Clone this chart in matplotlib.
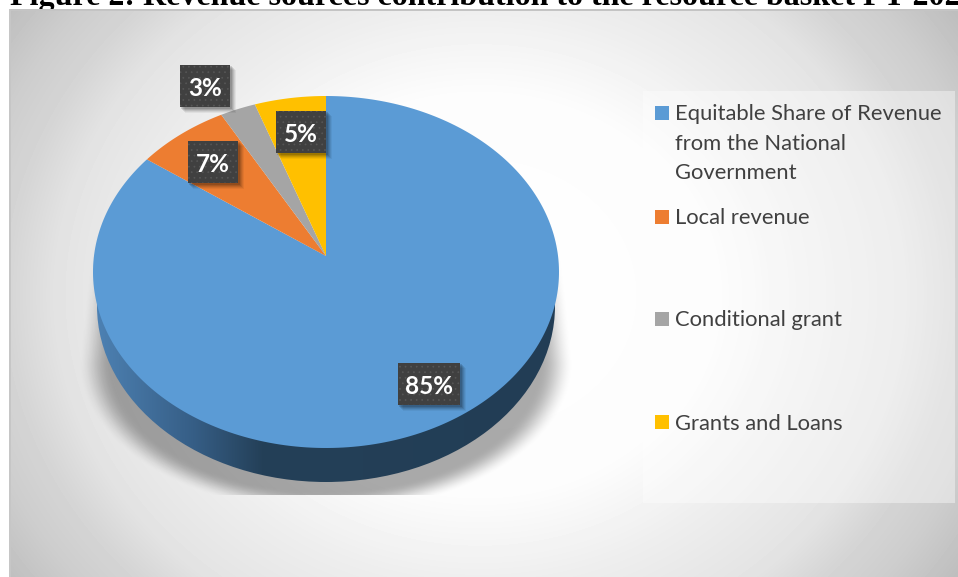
import numpy as np
import matplotlib
matplotlib.use("Agg")
import matplotlib.pyplot as plt
from matplotlib.patches import Rectangle, PathPatch, Ellipse
from matplotlib.path import Path
from matplotlib.transforms import Affine2D

# ---- data ----
categories = ["Equitable Share of Revenue\nfrom the National\nGovernment", "Local revenue",
              "Conditional grant", "Grants and Loans"]
values = [84.9, 7.0, 2.7, 5.4]
colors = ["#5B9BD5", "#ED7D31", "#A5A5A5", "#FFC000"]
title = "Figure 2: Revenue sources contribution to the resource basket FY 202"

W, H = 958, 577
plt.rcParams["hatch.linewidth"] = 0.5
fig = plt.figure(figsize=(W / 100, H / 100), dpi=100, facecolor="white")
ax = fig.add_axes([0, 0, 1, 1])
ax.set_axis_off()

ax.text(10, 5, title, family="Liberation Serif", weight="bold", fontsize=23,
        color="black", va="baseline", ha="left", zorder=0)

# background gradient of the chart area
X, Y = np.meshgrid(np.arange(9, W) + .5, np.arange(9, H) + .5)
rr = np.sqrt(((X - 480) / 471) ** 2 + (0.7 * (Y - 295) / 286) ** 2)
drop = np.interp(rr, [0, .5, .7, .9, 1, 1.1, 1.22, 1.3], [0, 3, 17, 28, 42, 50, 65, 70])
grey = (255 - drop) / 255
ax.imshow(grey, cmap="gray", vmin=0, vmax=1, extent=(9, W, H, 9), zorder=1, aspect="auto")
ax.add_patch(Rectangle((9, 9), W - 9, 2, fc="#c4c4c4", lw=0, zorder=1.1))
ax.add_patch(Rectangle((9, 9), 2, H - 9, fc="#c6c6c6", lw=0, zorder=1.1))

# pie geometry (pixels)
cx, rim_cy, rx, ry, apex_up = 326, 272, 233, 176, 16
c = apex_up / ry
k = rx * np.sqrt(1 - c ** 2)


def project(pts):
    xs, ys = pts[:, 0], pts[:, 1]
    den = c * ys + 1
    return np.column_stack([cx + k * xs / den,
                            rim_cy - (ry * ys + apex_up) / den])


# shadow
sx, sy = np.meshgrid(np.arange(60, 600) + .5, np.arange(200, 495) + .5)
hw = 248 - np.clip(363 - sy, 0, None) * 14 / 138
sd = np.sqrt(((sx - 326) / hw) ** 2 + (np.clip(sy - 363, 0, None) / 150) ** 2)
sa = np.clip((1.0 - sd) / 0.14, 0, 1)
sa = sa * sa * (3 - 2 * sa) * np.clip((sy - 225) / 75, 0, 1) * 0.33
rgba = np.zeros(sa.shape + (4,))
rgba[..., 3] = sa
ax.imshow(rgba, extent=(60, 600, 495, 200), zorder=2, aspect="auto")

# wall of the cylinder
gx = np.linspace(90, 565, 476)
stops_x = [90, 110, 193, 262, 565]
r = np.interp(gx, stops_x, [0x4E, 0x4A, 0x36, 0x24, 0x22])
g = np.interp(gx, stops_x, [0x84, 0x7C, 0x5E, 0x40, 0x3D])
b = np.interp(gx, stops_x, [0xB8, 0xAC, 0x86, 0x58, 0x55])
wall = np.stack([r, g, b], axis=-1)[None, :, :] / 255
im = ax.imshow(wall, extent=(90, 565, 490, 260), zorder=3, aspect="auto")
clip = Ellipse((326, 306), 2 * 229, 2 * 176, transform=ax.transData)
im.set_clip_path(clip)

# real pie, projected into perspective
wedges, _ = ax.pie(values, colors=colors, startangle=90, counterclock=False,
                   center=(0, 0), radius=1)
for w in wedges:
    poly = w.get_path().to_polygons(Affine2D().scale(2000), closed_only=True)[0] / 2000
    ax.add_patch(PathPatch(Path(project(poly), closed=True), fc=w.get_facecolor(),
                           lw=0, ec="none", zorder=4))
    w.remove()

# value labels
label_boxes = [(398, 363, 62, 42), (188, 141, 50, 42), (180, 65, 50, 42), (276, 111, 50, 42)]
for v, (bx, by, bw, bh) in zip(values, label_boxes):
    for off, al in [(6, .05), (5, .07), (4, .09), (3, .11), (2, .13)]:
        ax.add_patch(Rectangle((bx + off - 1, by + off - 1), bw + 1, bh + 1, fc="black",
                               alpha=al, lw=0, zorder=5))
    ax.add_patch(Rectangle((bx, by), bw, bh, fc="#404040", ec="#565656", hatch="...",
                           lw=0, zorder=6))
    ax.text(bx + bw / 2, by + bh / 2 + 2, f"{v:.0f}%", color="white", weight="bold",
            family="Lato", fontsize=17.5, ha="center", va="center", zorder=7)

# legend
ax.add_patch(Rectangle((643, 91), 312, 412, fc="white", alpha=.4, lw=0, zorder=2))
legend_y = [113, 217, 319, 422]
for name, col, y in zip(categories, colors, legend_y):
    ax.add_patch(Rectangle((655, y - 7), 14, 14, fc=col, lw=0, zorder=8))
    ax.text(675, y - 8.5, name, color="#404040", family="Lato", fontsize=15.8, va="top",
            ha="left", linespacing=1.58, zorder=8)

ax.set_xlim(0, W)
ax.set_ylim(H, 0)
ax.set_aspect("auto")
ax.set_axis_off()
fig.savefig("out.png", dpi=100, facecolor="white")
